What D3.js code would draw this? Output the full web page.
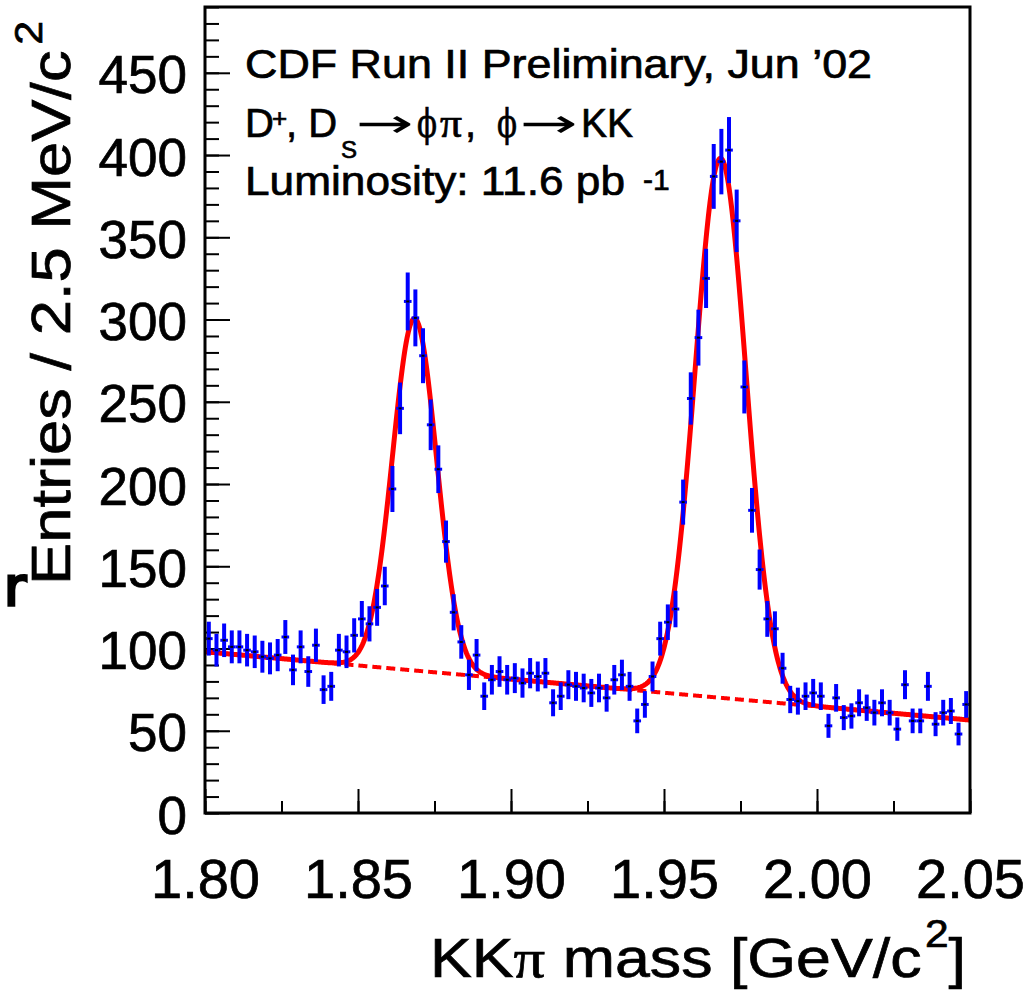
<!DOCTYPE html>
<html>
<head>
<meta charset="utf-8">
<script src="https://cdn.jsdelivr.net/npm/d3@7"></script>
<style>
  html, body { margin: 0; padding: 0; background: #fff; }
  svg { display: block; font-family: "Liberation Sans", Arial, Helvetica, sans-serif; }
  svg text { stroke: #000; stroke-width: 0.7px; }
</style>
</head>
<body>
<svg id="chart" width="1029" height="995"></svg>
<script>
// histogram: 100 bins of 2.5 MeV from 1.80 to 2.05 GeV
const massMin = 1.80, massMax = 2.05, binWidth = 0.0025;

const counts = [
  106, 99, 105, 101, 101, 99, 98, 95, 94, 96,
  107, 87, 101, 86, 102, 75, 77, 99, 98, 108,
  118, 115, 125, 138, 197, 246, 311, 301, 278, 236,
  209, 165, 122, 104, 84, 96, 71, 81, 86, 81,
  82, 79, 85, 83, 85, 67, 71, 78, 77, 76,
  73, 76, 70, 81, 84, 77, 56, 66, 83, 106,
  116, 124, 189, 252, 289, 325, 387, 396, 403, 360,
  259, 184, 148, 118, 112, 88, 69, 68, 71, 73,
  71, 53, 70, 58, 59, 67, 64, 61, 67, 61,
  51, 78, 56, 56, 77, 54, 61, 62, 48, 66
];

const errors = [
  10.3, 9.9, 10.2, 10.0, 10.0, 9.9, 9.9, 9.7, 9.7, 9.8,
  10.3, 9.3, 10.0, 9.3, 10.1, 8.7, 8.8, 9.9, 9.9, 10.4,
  10.9, 10.7, 11.2, 11.7, 14.0, 15.7, 17.6, 17.3, 16.7, 15.4,
  14.5, 12.8, 11.0, 10.2, 9.2, 9.8, 8.4, 9.0, 9.3, 9.0,
  9.1, 8.9, 9.2, 9.1, 9.2, 8.2, 8.4, 8.8, 8.8, 8.7,
  8.5, 8.7, 8.4, 9.0, 9.2, 8.8, 7.5, 8.1, 9.1, 10.3,
  10.8, 11.1, 13.7, 15.9, 17.0, 18.0, 19.7, 19.9, 20.1, 19.0,
  16.1, 13.6, 12.2, 10.9, 10.6, 9.4, 8.3, 8.2, 8.4, 8.5,
  8.4, 7.3, 8.4, 7.6, 7.7, 8.2, 8.0, 7.8, 8.2, 7.8,
  7.1, 8.8, 7.5, 7.5, 8.8, 7.3, 7.8, 7.9, 6.9, 8.1
];

const xTicks = [1.80, 1.85, 1.90, 1.95, 2.00, 2.05];
const yTicks = [0, 50, 100, 150, 200, 250, 300, 350, 400, 450];

// fit: two gaussians on a linear background
const bgAt180 = 98, bgSlope = -166;
const peakMeans  = [1.8685, 1.9685];
const peakSigmas = [0.0072, 0.0083];
const peakAmps   = [214, 328];

const X0 = 205, X1 = 970, Y0 = 7, Y1 = 813;

const svg = d3.select('#chart');

const x = d3.scaleLinear().domain([massMin, massMax]).range([X0, X1]);
const y = d3.scaleLinear().domain([0, 490]).range([Y1, Y0]);

function background(m) { return bgAt180 + bgSlope * (m - massMin); }
function total(m) {
    var s = background(m);
    peakMeans.forEach(function (mu, i) {
        var z = (m - mu) / peakSigmas[i];
        s += peakAmps[i] * Math.exp(-0.5 * z * z);
    });
    return s;
}

// ---- axes (ticks inside the frame) ----
function styleAxis(g) {
    g.select('.domain').remove();
    g.selectAll('.tick line').attr('stroke', '#000').attr('stroke-width', 2);
}

svg.append('g')
    .attr('transform', 'translate(' + X0 + ',0)')
    .call(d3.axisLeft(y).tickValues(d3.range(0, 491, 10)).tickSize(-14).tickFormat(''))
    .call(styleAxis);

var yAxis = svg.append('g')
    .attr('transform', 'translate(' + X0 + ',0)')
    .call(d3.axisLeft(y).tickValues(yTicks).tickSize(-25).tickPadding(18).tickFormat(d3.format('d')))
    .call(styleAxis);
yAxis.selectAll('text')
    .attr('font-size', 53).attr('fill', '#000').attr('dy', '0.38em')
    .style('font-family', '"Liberation Sans", Arial, sans-serif');

svg.append('g')
    .attr('transform', 'translate(0,' + Y1 + ')')
    .call(d3.axisBottom(x).tickValues(d3.range(0, 11).map(function (i) { return massMin + i * 0.025; }))
        .tickSize(-12).tickFormat(''))
    .call(styleAxis);

var xAxis = svg.append('g')
    .attr('transform', 'translate(0,' + Y1 + ')')
    .call(d3.axisBottom(x).tickValues(xTicks).tickSize(-24).tickPadding(45).tickFormat(d3.format('.2f')))
    .call(styleAxis);
xAxis.selectAll('text')
    .attr('font-size', 56).attr('fill', '#000')
    .style('font-family', '"Liberation Sans", Arial, sans-serif');

// ---- fit curves ----
var samples = d3.range(0, 1001).map(function (i) { return massMin + i * (massMax - massMin) / 1000; });

svg.append('path')
    .datum(samples)
    .attr('d', d3.line().x(function (m) { return x(m); }).y(function (m) { return y(background(m)); }))
    .attr('fill', 'none')
    .attr('stroke', '#ff0000')
    .attr('stroke-width', 4)
    .attr('stroke-dasharray', '9,5');

svg.append('path')
    .datum(samples)
    .attr('d', d3.line().x(function (m) { return x(m); }).y(function (m) { return y(total(m)); }))
    .attr('fill', 'none')
    .attr('stroke', '#ff0000')
    .attr('stroke-width', 5)
    .attr('stroke-linejoin', 'round');

// ---- data points with errors ----
var pts = svg.append('g');
counts.forEach(function (v, i) {
    var lo = massMin + i * binWidth, hi = lo + binWidth, c = lo + binWidth / 2;
    var e = errors[i];
    pts.append('line')
        .attr('x1', x(c)).attr('x2', x(c))
        .attr('y1', y(v - e)).attr('y2', y(v + e))
        .attr('stroke', '#0000ff').attr('stroke-width', 4);
    pts.append('line')
        .attr('x1', x(lo)).attr('x2', x(hi))
        .attr('y1', y(v)).attr('y2', y(v))
        .attr('stroke', '#0000ff').attr('stroke-width', 3);
    pts.append('rect')
        .attr('x', x(c) - 1.5).attr('y', y(v) - 1)
        .attr('width', 3).attr('height', 2)
        .attr('fill', '#000');
});

// ---- frame ----
svg.append('rect')
    .attr('x', X0).attr('y', Y0)
    .attr('width', X1 - X0).attr('height', Y1 - Y0)
    .attr('fill', 'none').attr('stroke', '#000').attr('stroke-width', 3);

// ---- titles ----
svg.append('text')
    .attr('transform', 'translate(70,585) rotate(-90) scale(1.13,1)')
    .attr('font-size', 56)
    .text('Entries / 2.5 MeV/c')
  .append('tspan')
    .attr('font-size', 38).attr('dy', -28).attr('dx', 5)
    .text('2');

var xt = svg.append('text')
    .attr('transform', 'translate(966,977) scale(1.12,1)')
    .attr('text-anchor', 'end')
    .attr('font-size', 56);
xt.append('tspan').text('KK');
xt.append('tspan').style('font-family', '"Liberation Serif", "Times New Roman", serif').text('π');
xt.append('tspan').text(' mass [GeV/c');
xt.append('tspan').attr('font-size', 38).attr('dy', -30).attr('dx', 3).text('2');
xt.append('tspan').attr('dy', 30).text(']');

// stray glyph left of the y title
svg.append('text')
    .attr('x', 4).attr('y', 605)
    .attr('font-size', 54)
    .style('font-family', '"DejaVu Sans", sans-serif')
    .style('stroke-width', '3px')
    .text('r');

// ---- annotation block ----
svg.append('text')
    .attr('x', 245).attr('y', 78)
    .attr('font-size', 40)
    .attr('textLength', 627).attr('lengthAdjust', 'spacingAndGlyphs')
    .text('CDF Run II Preliminary, Jun ’02');

var l2 = svg.append('text').attr('y', 137).attr('font-size', 40);
l2.append('tspan').attr('x', 245).text('D');
l2.append('tspan').attr('x', 272).attr('y', 127).attr('font-size', 26).text('+');
l2.append('tspan').attr('x', 286).attr('y', 137).text(', D');
l2.append('tspan').attr('x', 341).attr('y', 158).attr('font-size', 24).text('S');
l2.append('tspan').attr('x', 356).attr('y', 137)
    .style('font-family', '"DejaVu Sans", sans-serif').style('stroke-width', '0px')
    .attr('textLength', 58).attr('lengthAdjust', 'spacingAndGlyphs').text('→');
l2.append('tspan').attr('x', 417).style('font-family', '"DejaVu Serif", serif')
    .attr('textLength', 20).attr('lengthAdjust', 'spacingAndGlyphs').text('ϕ');
l2.append('tspan').attr('x', 440).style('font-family', '"Liberation Serif", serif')
    .attr('textLength', 22).attr('lengthAdjust', 'spacingAndGlyphs').text('π');
l2.append('tspan').attr('x', 465).text(',');
l2.append('tspan').attr('x', 497).style('font-family', '"DejaVu Serif", serif')
    .attr('textLength', 20).attr('lengthAdjust', 'spacingAndGlyphs').text('ϕ');
l2.append('tspan').attr('x', 520)
    .style('font-family', '"DejaVu Sans", sans-serif').style('stroke-width', '0px')
    .attr('textLength', 58).attr('lengthAdjust', 'spacingAndGlyphs').text('→');
l2.append('tspan').attr('x', 581).attr('textLength', 52).attr('lengthAdjust', 'spacingAndGlyphs').text('KK');

svg.append('text')
    .attr('x', 245).attr('y', 195)
    .attr('font-size', 40)
    .attr('textLength', 380).attr('lengthAdjust', 'spacingAndGlyphs')
    .text('Luminosity: 11.6 pb');
svg.append('text')
    .attr('x', 643).attr('y', 190)
    .attr('font-size', 30)
    .text('-1');
</script>
</body>
</html>
